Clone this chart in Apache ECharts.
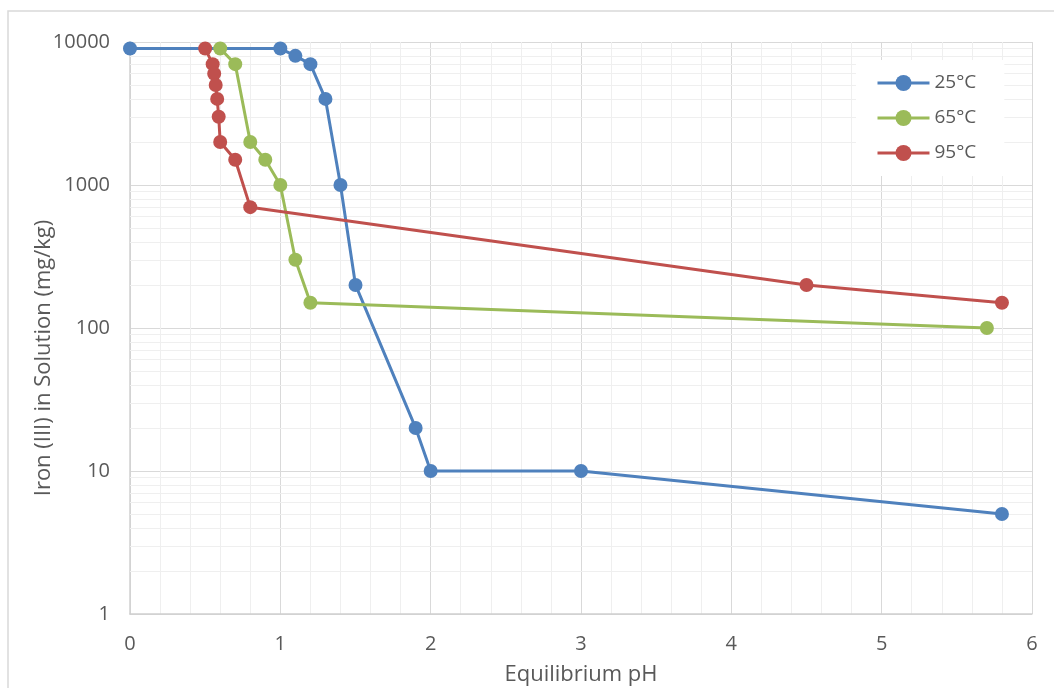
<!DOCTYPE html>
<html>
<head>
<meta charset="utf-8">
<script src="https://cdn.jsdelivr.net/npm/echarts@6/dist/echarts.min.js"></script>
<style>html,body{margin:0;padding:0;background:#fff}#c{width:1054px;height:688px}</style>
</head>
<body>
<div id="c"></div>
<script>
const seriesNames = ['25°C', '65°C', '95°C'];
const ph25 = [0, 1.0, 1.1, 1.2, 1.3, 1.4, 1.5, 1.9, 2.0, 3.0, 5.8];
const fe25 = [9000, 9000, 8000, 7000, 4000, 1000, 200, 20, 10, 10, 5];
const ph65 = [0.6, 0.7, 0.8, 0.9, 1.0, 1.1, 1.2, 5.7];
const fe65 = [9000, 7000, 2000, 1500, 1000, 300, 150, 100];
const ph95 = [0.5, 0.55, 0.56, 0.57, 0.58, 0.59, 0.6, 0.7, 0.8, 4.5, 5.8];
const fe95 = [9000, 7000, 6000, 5000, 4000, 3000, 2000, 1500, 700, 200, 150];
const yMinorGrid = [2,3,4,5,6,7,8,9,20,30,40,50,60,70,80,90,200,300,400,500,600,700,800,900,2000,3000,4000,5000,6000,7000,8000,9000];
const colors = ['#4F81BD', '#9BBB59', '#C0504D'];
const yTitle = 'Iron (III) in Solution (mg/kg)';

const pairs = (xs, ys) => xs.map((x, i) => [x, ys[i]]);
const font = '"Open Sans", sans-serif';
const txt = '#595959';

const chart = echarts.init(document.getElementById('c'), null, {renderer: 'canvas'});
const mkSeries = (name, xs, ys, color) => ({
  name, type: 'line', data: pairs(xs, ys), z: 10,
  symbol: 'circle', symbolSize: 14,
  itemStyle: {color}, lineStyle: {color, width: 3},
  emphasis: {disabled: true}, animation: false
});

chart.setOption({
  animation: false,
  graphic: [
    {type: 'rect', shape: {x: 8, y: 11, width: 1100, height: 720}, style: {fill: 'none', stroke: '#d9d9d9', lineWidth: 1.5}, z: -10},
    {type: 'text', x: 44, y: 358, rotation: Math.PI / 2,
     style: {text: yTitle, font: '22px "Open Sans", sans-serif', fill: txt, align: 'center', verticalAlign: 'middle'}}
  ],
  grid: {left: 130, right: 22, top: 42, bottom: 74, containLabel: false, outerBoundsMode: 'none'},
  legend: {
    data: seriesNames, orient: 'vertical', left: 856, top: 60,
    itemWidth: 52, itemHeight: 20, itemGap: 13,
    lineStyle: {width: 3},
    backgroundColor: '#ffffff', padding: [12, 28, 12, 20],
    textStyle: {fontFamily: font, fontSize: 19, color: txt, lineHeight: 22}
  },
  xAxis: {
    type: 'value', min: 0, max: 6, interval: 1,
    name: 'Equilibrium pH', nameLocation: 'middle', nameGap: 50,
    nameTextStyle: {fontFamily: font, fontSize: 22, color: txt},
    axisLabel: {fontFamily: font, fontSize: 20, color: txt, margin: 20},
    axisLine: {show: true, lineStyle: {color: '#d0d0d0', width: 1.5}},
    axisTick: {show: false},
    splitLine: {show: true, lineStyle: {color: '#d9d9d9', width: 1}},
    minorTick: {show: false, splitNumber: 5},
    minorSplitLine: {show: true, lineStyle: {color: '#efefef', width: 1}}
  },
  yAxis: {
    type: 'log', logBase: 10, min: 1, max: 10000,
    axisLabel: {fontFamily: font, fontSize: 20, color: txt, margin: 20, formatter: v => String(Math.round(v))},
    axisLine: {show: true, lineStyle: {color: '#d0d0d0', width: 1.5}},
    axisTick: {show: false},
    splitLine: {show: true, lineStyle: {color: '#d9d9d9', width: 1}}
  },
  series: [
    {
      name: 'grid-minor', type: 'line', data: [], z: 1, silent: true,
      markLine: {
        silent: true, z: 1, symbol: ['none', 'none'], label: {show: false},
        lineStyle: {color: '#efefef', width: 1, type: 'solid'},
        emphasis: {disabled: true},
        data: yMinorGrid.map(v => ({yAxis: v}))
      }
    },
    mkSeries(seriesNames[0], ph25, fe25, colors[0]),
    mkSeries(seriesNames[1], ph65, fe65, colors[1]),
    mkSeries(seriesNames[2], ph95, fe95, colors[2])
  ]
});
</script>
</body>
</html>
